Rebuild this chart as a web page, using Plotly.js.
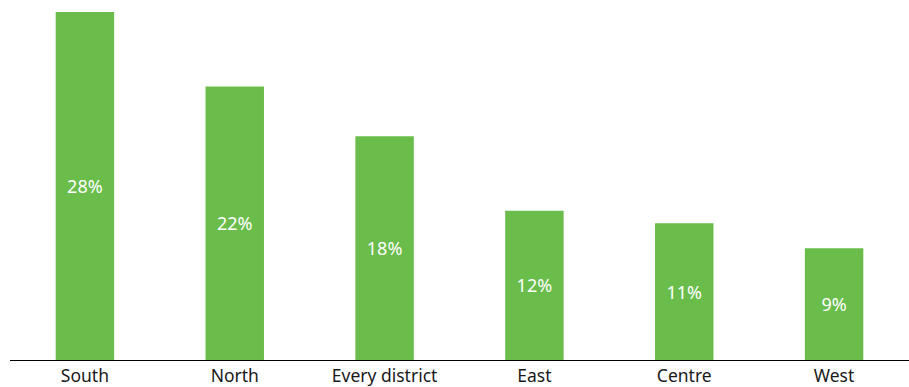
<!DOCTYPE html>
<html>
<head>
<meta charset="utf-8">
<script src="https://cdn.plot.ly/plotly-3.0.1.min.js"></script>
<style>html,body{margin:0;padding:0;background:#fff;}#chart{width:909px;height:387px;}</style>
</head>
<body>
<div id="chart"></div>
<script>
const categories = ["South", "North", "Every district", "East", "Centre", "West"];
const values = [28, 22, 18, 12, 11, 9];
const labels = ["28%", "22%", "18%", "12%", "11%", "9%"];

const trace = {
  type: "bar",
  x: categories,
  y: values,
  text: labels,
  textposition: "inside",
  insidetextanchor: "middle",
  textangle: 0,
  texttemplate: "%{text}",
  textfont: {family: "Noto Sans, Open Sans, sans-serif", size: 18, color: "#ffffff"},
  marker: {color: "#6abd4b"},
  hoverinfo: "none"
};

const layout = {
  width: 909,
  height: 387,
  margin: {l: 10, r: 0, t: 12, b: 27, pad: 0},
  paper_bgcolor: "#ffffff",
  plot_bgcolor: "#ffffff",
  bargap: 0.61,
  showlegend: false,
  font: {family: "Noto Sans, Open Sans, sans-serif", size: 17.5, color: "#1a1a1a"},
  xaxis: {
    showline: true,
    linecolor: "#000000",
    linewidth: 1,
    ticks: "",
    showgrid: false,
    zeroline: false,
    tickfont: {size: 17.5, color: "#1a1a1a"},
    automargin: false
  },
  yaxis: {
    range: [0, 28],
    visible: false,
    showgrid: false,
    zeroline: false
  }
};

Plotly.newPlot("chart", [trace], layout, {displayModeBar: false, staticPlot: true});
</script>
</body>
</html>
